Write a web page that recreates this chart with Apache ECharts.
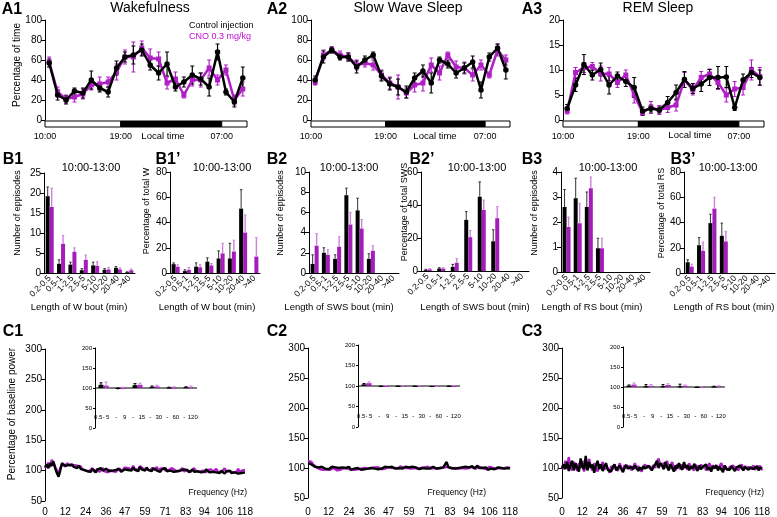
<!DOCTYPE html>
<html><head><meta charset="utf-8">
<script src="https://cdn.jsdelivr.net/npm/echarts@6/dist/echarts.min.js"></script>
<style>html,body{margin:0;padding:0;background:#fff}#c{width:777px;height:517px}</style>
</head><body><div id="c"></div>
<script>
// ---------------- DATA ----------------
// A: hourly bins from 10:00 (hours since 10:00, bin centres)
const hourBins = [0.5,1.5,2.5,3.5,4.5,5.5,6.5,7.5,8.5,9.5,10.5,11.5,12.5,13.5,14.5,15.5,16.5,17.5,18.5,19.5,20.5,21.5,22.5,23.5];
const timeTickHours = [0, 9, 21];
const timeTickLabels = ['10:00', '19:00', '07:00'];
const lightDark = [[0, 9, 0], [9, 21, 1], [21, 24, 0]]; // start, end, dark

const wakeCtl    = [57,25,20,29,27,40,32,28,52,63,65,70,55,47,56,33,38,45,41,33,68,28,18,42];
const wakeCtlErr = [4,5,4,3,5,9,4,5,7,5,9,6,5,7,12,4,5,9,6,9,8,3,5,11];
const wakeCno    = [58,28,21,23,26,35,36,38,48,63,63,72,62,61,37,41,25,40,40,52,40,50,20,31];
const wakeCnoErr = [5,5,4,5,5,5,7,5,8,7,15,7,9,7,6,7,3,6,7,8,5,5,5,7];

const swsCtl    = [40,63,70,63,63,53,60,65,44,36,33,28,42,49,37,60,56,47,52,58,30,63,72,50];
const swsCtlErr = [4,6,3,3,4,6,4,3,5,6,8,6,5,6,10,3,4,5,5,6,8,4,4,9];
const swsCno    = [38,65,70,65,63,55,57,55,45,37,33,27,35,37,55,47,65,53,52,45,55,45,70,60];
const swsCnoErr = [3,5,3,4,4,5,4,5,5,6,12,5,7,8,7,7,3,6,6,6,5,3,6,5];

const remCtl    = [2.3,7,11.1,9,10.1,7,8.8,7.7,6.5,1.8,2.3,2,3.5,5.5,8.1,6.3,7.2,8.5,8.5,8.6,2.5,8,9.5,8.5];
const remCtlErr = [0.8,1.3,2,1,1.3,1.8,0.8,1,2,0.8,0.7,0.6,1.2,1.5,1.6,1,1.5,1.6,2.2,2.1,0.6,1.2,1,1.5];
const remCno    = [1.8,9.5,10.5,10.7,9.3,9.2,7.5,9,5,1.5,2.5,2,2.5,3,8,6,8.5,9.2,7.5,5,6.2,6.5,10,8.7];
const remCnoErr = [0.6,1,1,0.8,1.5,1.3,1,1,1.6,0.6,1.2,0.9,1,1.2,1.5,1,1.2,1,1.4,1.4,1.5,1.5,2,1.8];

// B: bout length categories
const boutCats = ['0.2-0.5','0.5-1','1-2.5','2.5-5','5-10','10-20','20-40','>40'];
const wNumCtl = [19.2,2.3,2.1,0.7,1.9,0.8,1.3,0.2], wNumCtlErr = [2.3,1,0.6,0.4,0.8,0.3,0.3,0.1];
const wNumCno = [16.5,7.3,5.3,3.3,1.8,0.9,0.9,0.7], wNumCnoErr = [4.7,2.1,1,1.2,1,0.5,0.4,0.3];
const wPctCtl = [7,1.5,5,9,11.5,11.5,51,0],        wPctCtlErr = [1,1,3,3,6,12,15,0];
const wPctCno = [5,2.5,4.5,6,15.5,17,32,13],       wPctCnoErr = [1.5,2,2,1.5,8,9,14,15];
const sNumCtl = [0.9,2,1.4,7.7,6.2,1.4,0,0],       sNumCtlErr = [0.9,0.5,0.4,0.7,1.2,0.5,0,0];
const sNumCno = [2.7,1.8,2.6,4.8,4.4,2.2,0,0],     sNumCnoErr = [1.2,0.5,1,1.2,0.9,0.5,0,0];
const sPctCtl = [0.5,1.5,2.5,31,45,18,0,0],        sPctCtlErr = [0.5,0.5,1.5,5,9,7,0,0];
const sPctCno = [1,1.5,5,20.5,37,32,0,0],          sPctCnoErr = [0.5,0.5,2.5,4,6,7,0,0];
const rNumCtl = [2.6,2.95,2.6,0.95,0,0,0,0],       rNumCtlErr = [0.7,0.8,0.6,0.4,0,0,0,0];
const rNumCno = [1.8,1.95,3.35,0.95,0,0,0,0],      rNumCnoErr = [0.4,0.8,0.45,0.4,0,0,0,0];
const rPctCtl = [8.5,22,39.5,29.5,0,0,0,0],        rPctCtlErr = [2,6,7,10,0,0,0,0];
const rPctCno = [5,17.5,51,25,0,0,0,0],            rPctCnoErr = [2,7,9,8,0,0,0,0];

// C: power spectra, % of baseline, 1-Hz bins 0..118 Hz
const freqTicks = [0,12,24,36,47,59,71,83,94,106,118];
const c1Ctl = [106,110,104,112,108,115,104,96,90,100,
  112,110,108,111,109,107,110,106,109,104,
  108,103,106,101,104,99,102,98,103,100,
  97,102,99,104,100,98,103,101,99,102,
  100,97,101,99,103,98,100,102,99,101,
  103,100,105,101,104,99,106,102,104,100,
  105,101,103,99,104,102,100,103,98,102,
  101,104,99,102,100,103,98,101,99,102,
  100,98,102,99,101,97,100,102,98,100,
  99,101,97,100,98,102,99,97,100,98,
  101,97,99,96,100,98,95,99,97,100,
  96,99,97,100,95,98,96,99,97];
const c1Cno = [104,108,113,106,118,112,106,100,96,104,
  110,113,107,112,110,108,111,109,106,108,
  105,107,102,105,100,103,99,101,104,98,
  100,103,98,101,104,99,102,97,101,103,
  99,102,98,104,100,103,101,105,102,104,
  106,102,108,103,105,101,107,104,103,106,
  102,105,100,104,103,101,106,99,103,101,
  104,100,103,101,99,104,102,100,103,99,
  101,104,99,102,100,103,98,101,104,99,
  102,98,101,100,103,97,101,99,102,98,
  100,103,98,101,97,100,104,98,101,99,
  102,97,100,98,103,96,100,98,101];
const c2Ctl = [108,110,106,104,102,100,101,99,102,100,
  99,101,98,100,102,99,101,98,100,99,
  101,98,100,99,102,97,100,99,98,100,
  99,97,100,98,101,99,98,100,97,99,
  100,98,101,99,100,102,99,101,100,102,
  101,99,102,100,101,99,100,102,99,101,
  100,102,99,101,100,98,101,100,102,99,
  101,99,100,102,100,99,101,100,98,101,
  104,110,101,99,100,102,99,101,100,98,
  101,100,102,99,101,100,103,99,101,104,
  100,98,100,99,101,97,100,99,101,98,
  100,101,99,100,102,99,101,100,99];
const c2Cno = [112,115,110,106,103,101,99,98,100,97,
  100,98,101,97,99,100,98,96,99,97,
  98,100,97,99,96,98,100,97,99,98,
  97,99,98,100,97,99,98,100,99,101,
  99,101,100,98,101,99,100,102,101,100,
  102,100,101,99,103,101,100,102,100,101,
  99,101,100,102,99,101,100,99,101,100,
  102,100,99,101,100,102,99,101,100,102,
  101,100,102,100,99,101,100,102,99,101,
  100,102,99,101,100,99,102,100,99,101,
  102,99,100,101,98,100,102,99,100,101,
  99,101,100,102,99,100,101,99,100];
const c3Ctl = [100,106,98,110,95,104,112,96,108,100,
  94,116,102,98,120,96,110,100,106,92,
  104,112,98,106,95,103,108,97,100,94,
  102,106,96,100,104,98,93,101,105,99,
  96,102,98,104,100,95,101,97,103,99,
  98,104,100,96,102,106,112,100,108,104,
  98,110,102,96,106,100,94,104,99,108,
  102,97,110,100,105,96,103,99,107,101,
  95,104,98,102,100,106,97,101,94,103,
  99,105,96,102,100,93,104,98,101,97,
  103,99,95,101,98,104,100,96,102,99,
  97,101,104,98,100,103,96,101,99];
const c3Cno = [104,98,112,100,118,102,96,110,104,95,
  108,100,112,94,106,98,115,102,96,108,
  100,94,106,102,110,97,104,99,92,103,
  98,104,100,95,108,101,97,105,99,102,
  104,96,100,108,98,103,100,94,102,106,
  100,98,103,97,105,100,110,116,104,102,
  108,100,112,98,104,110,100,96,106,102,
  98,106,100,104,97,108,101,103,96,105,
  102,98,106,100,104,96,102,108,99,104,
  106,100,97,103,108,99,104,100,96,102,
  100,104,98,102,96,101,106,99,103,98,
  102,98,100,104,97,102,99,103,96];

// C insets: frequency bands
const bandLabels = ['0.5-','5','-','9','-','15','-','30','-','60','-','120'];
const bandCentres = [0.5,1.5,2.5,3.5,4.5,5.5];
const baselinePct = 100;
const c1BandCtl = [108,98,107,103,101,102], c1BandCtlErr = [5,2,4,2,1,1];
const c1BandCno = [106,99,108,104,101,102], c1BandCnoErr = [9,3,4,3,2,3];
const c2BandCtl = [104,99,99,99,98,99],     c2BandCtlErr = [2,1,1,1,1,1];
const c2BandCno = [107,100,99,99,98,100],   c2BandCnoErr = [3,1,1,1,1,1];
const c3BandCtl = [103,102,102,102,99,101], c3BandCtlErr = [2,4,4,5,1,1];
const c3BandCno = [106,103,105,103,99,102], c3BandCnoErr = [4,3,3,2,1,1];

// ---------------- STYLE / BUILD ----------------
const FONT = "'Liberation Sans', Arial, Helvetica, sans-serif";
const INK = '#000';
const MAG = '#a41cba';
const MAG_LINE = '#b01fc6';
const MAG_ERR = '#cc84da';
const MAG_TEXT = '#c20fd2';

const grid = [], xAxis = [], yAxis = [], series = [], graphic = [];

function addGrid(left, top, width, height) {
  grid.push({left, top, width, height, containLabel: false});
  return grid.length - 1;
}
function valueY(g, min, max, interval, fontSize, tickLen) {
  yAxis.push({
    gridIndex: g, type: 'value', min, max, interval,
    axisLine: {show: true, lineStyle: {color: INK, width: 1}},
    axisTick: {show: true, length: tickLen || 4, lineStyle: {color: INK, width: 1}},
    axisLabel: {color: INK, fontFamily: FONT, fontSize, margin: 3},
    splitLine: {show: false}
  });
  return yAxis.length - 1;
}
function errSeries(xi, yi, data, color, dx, mode, cap, lw) {
  return {
    type: 'custom', xAxisIndex: xi, yAxisIndex: yi, data, silent: true, z: 3,
    renderItem: (p, api) => {
      const x = api.value(0), v = api.value(1), e = api.value(2);
      if (!e) return null;
      const top = api.coord([x, v + e]);
      const bot = api.coord([x, mode === 'both' ? v - e : v]);
      const cx = top[0] + dx;
      const ch = [
        {type: 'line', shape: {x1: cx, y1: bot[1], x2: cx, y2: top[1]}, style: {stroke: color, lineWidth: lw || 1}},
        {type: 'line', shape: {x1: cx - cap / 2, y1: top[1], x2: cx + cap / 2, y2: top[1]}, style: {stroke: color, lineWidth: 1}}
      ];
      if (mode === 'both') ch.push({type: 'line', shape: {x1: cx - cap / 2, y1: bot[1], x2: cx + cap / 2, y2: bot[1]}, style: {stroke: color, lineWidth: 1}});
      return {type: 'group', children: ch};
    }
  };
}
function txt(x, y, text, size, o) {
  o = o || {};
  const al = o.align || 'center';
  graphic.push({type: 'text', x, y, rotation: o.rot || 0, z: 100, silent: true,
    style: {text, fill: o.color || INK, font: (o.bold ? 'bold ' : '') + size + 'px ' + FONT,
      align: al, textAlign: al, verticalAlign: 'middle', textVerticalAlign: 'middle'}});
}

function panelA(left, width, ymax, yint, ctl, ctlErr, cno, cnoErr) {
  const g = addGrid(left, 20, width, 100);
  xAxis.push({gridIndex: g, type: 'value', min: 0, max: 24, show: false});
  const xi = xAxis.length - 1;
  const yi = valueY(g, 0, ymax, yint, 10);
  const mk = (vals, errs) => hourBins.map((h, i) => [h, vals[i], errs[i]]);
  series.push(errSeries(xi, yi, mk(cno, cnoErr), MAG_LINE, 0, 'both', 4, 1.2));
  series.push({type: 'line', name: 'CNO 0.3 mg/kg', xAxisIndex: xi, yAxisIndex: yi,
    data: hourBins.map((h, i) => [h, cno[i]]), symbol: 'rect', symbolSize: 5, showSymbol: true,
    lineStyle: {color: MAG_LINE, width: 2.5}, itemStyle: {color: MAG_LINE}, z: 3});
  series.push(errSeries(xi, yi, mk(ctl, ctlErr), INK, 0, 'both', 4, 1.2));
  series.push({type: 'line', name: 'Control injection', xAxisIndex: xi, yAxisIndex: yi,
    data: hourBins.map((h, i) => [h, ctl[i]]), symbol: 'circle', symbolSize: 5.5, showSymbol: true,
    lineStyle: {color: INK, width: 2.5}, itemStyle: {color: INK}, z: 4});
  // light / dark bar with time labels
  const g2 = addGrid(left, 121, width, 6);
  xAxis.push({gridIndex: g2, type: 'value', min: 0, max: 24, interval: 3,
    axisLine: {show: false}, axisTick: {show: false}, splitLine: {show: false},
    axisLabel: {show: true, color: INK, fontFamily: FONT, fontSize: 9, margin: 5,
      showMinLabel: true, showMaxLabel: true,
      formatter: v => { const k = timeTickHours.indexOf(v); return k < 0 ? '' : timeTickLabels[k]; }}});
  const bx = xAxis.length - 1;
  yAxis.push({gridIndex: g2, type: 'value', min: 0, max: 1, show: false});
  const by = yAxis.length - 1;
  series.push({type: 'custom', xAxisIndex: bx, yAxisIndex: by, data: lightDark, silent: true,
    renderItem: (p, api) => {
      const s = api.coord([api.value(0), 1]);
      const e = api.coord([api.value(1), 0]);
      return {type: 'rect', shape: {x: s[0], y: s[1], width: e[0] - s[0], height: e[1] - s[1]},
        style: {fill: api.value(2) ? INK : '#fff', stroke: INK, lineWidth: 1}};
    }});
}

function panelB(left, top, width, height, ymax, yint, ctl, ctlErr, cno, cnoErr, xName, nameX, nameY) {
  const g = addGrid(left, top, width, height);
  xAxis.push({gridIndex: g, type: 'category', data: boutCats, boundaryGap: true,
    axisLine: {show: true, lineStyle: {color: INK, width: 1}}, axisTick: {show: false},
    axisLabel: {interval: 0, rotate: 45, color: INK, fontFamily: FONT, fontSize: 8.5, margin: 4}});
  const xi = xAxis.length - 1;
  const yi = valueY(g, 0, ymax, yint, 10);
  series.push({type: 'bar', name: 'Control injection', xAxisIndex: xi, yAxisIndex: yi, data: ctl,
    barWidth: 4, barGap: '0%', itemStyle: {color: INK}});
  series.push({type: 'bar', name: 'CNO 0.3 mg/kg', xAxisIndex: xi, yAxisIndex: yi, data: cno,
    barWidth: 4, barGap: '0%', itemStyle: {color: MAG}});
  series.push(errSeries(xi, yi, ctl.map((v, i) => [i, v, ctlErr[i]]), '#333', -2, 'up', 2.5, 1));
  series.push(errSeries(xi, yi, cno.map((v, i) => [i, v, cnoErr[i]]), MAG_ERR, 2, 'up', 2.5, 1.4));
  txt(nameX, nameY, xName, 9.5);
}

function panelC(left, top, width, height, labelMargin, ctl, cno, ins, bCtl, bCtlErr, bCno, bCnoErr) {
  const g = addGrid(left, top, width, height);
  xAxis.push({gridIndex: g, type: 'category', data: ctl.map((_, i) => String(i)), boundaryGap: false,
    axisLine: {show: false}, axisTick: {show: false}, splitLine: {show: false},
    axisLabel: {interval: (i) => freqTicks.indexOf(i) >= 0, color: INK, fontFamily: FONT, fontSize: 10, margin: labelMargin}});
  const xi = xAxis.length - 1;
  const yi = valueY(g, 50, 300, 50, 10);
  series.push({type: 'line', name: 'CNO 0.3 mg/kg', xAxisIndex: xi, yAxisIndex: yi, data: cno, showSymbol: false,
    lineStyle: {color: MAG_LINE, width: 2.4}, itemStyle: {color: MAG_LINE}, z: 2});
  series.push({type: 'line', name: 'Control injection', xAxisIndex: xi, yAxisIndex: yi, data: ctl, showSymbol: false,
    lineStyle: {color: INK, width: 2.4}, itemStyle: {color: INK}, z: 3});
  // inset
  const gi = addGrid(ins.left, ins.top, 102, ins.height);
  xAxis.push({gridIndex: gi, type: 'value', min: 0, max: 6, show: false, position: 'top'});
  const ixi = xAxis.length - 1;
  xAxis.push({gridIndex: gi, type: 'category', data: bandLabels, position: 'bottom', offset: -14,
    axisLine: {show: false}, axisTick: {show: false},
    axisLabel: {interval: 0, color: INK, fontFamily: FONT, fontSize: 6, margin: 0}});
  const iyi = valueY(gi, 0, 200, 50, 6, 2);
  series.push({type: 'line', xAxisIndex: ixi, yAxisIndex: iyi, data: [[0, baselinePct], [6, baselinePct]],
    showSymbol: false, silent: true, lineStyle: {color: INK, width: 1}, z: 2});
  const barSeries = (vals, errs, color, errColor, dx) => ({
    type: 'custom', xAxisIndex: ixi, yAxisIndex: iyi, silent: true, z: 3,
    data: bandCentres.map((c, i) => [c, vals[i], errs[i]]),
    renderItem: (p, api) => {
      const x = api.value(0), v = api.value(1), e = api.value(2);
      const a = api.coord([x, baselinePct]), b = api.coord([x, v]);
      const t = api.coord([x, v + e]), d = api.coord([x, v - e]);
      const cx = a[0] + dx;
      return {type: 'group', children: [
        {type: 'rect', shape: {x: cx - 2.5, y: Math.min(a[1], b[1]), width: 5, height: Math.max(1, Math.abs(a[1] - b[1]))}, style: {fill: color}},
        {type: 'line', shape: {x1: cx, y1: d[1], x2: cx, y2: t[1]}, style: {stroke: errColor, lineWidth: 1}},
        {type: 'line', shape: {x1: cx - 1.5, y1: t[1], x2: cx + 1.5, y2: t[1]}, style: {stroke: errColor, lineWidth: 1}}
      ]};
    }
  });
  series.push(barSeries(bCtl, bCtlErr, INK, INK, -2.5));
  series.push(barSeries(bCno, bCnoErr, MAG, MAG_ERR, 2.5));
}

// A panels
panelA(45, 202, 100, 20, wakeCtl, wakeCtlErr, wakeCno, wakeCnoErr);
panelA(311, 199, 100, 20, swsCtl, swsCtlErr, swsCno, swsCnoErr);
panelA(563, 201, 20, 5, remCtl, remCtlErr, remCno, remCnoErr);
// B panels
panelB(44, 173, 91, 100, 25, 5, wNumCtl, wNumCtlErr, wNumCno, wNumCnoErr, 'Length of W bout (min)', 79, 307);
panelB(170, 172, 90, 101, 80, 20, wPctCtl, wPctCtlErr, wPctCno, wPctCnoErr, 'Length of W bout (min)', 207, 307);
panelB(309, 172, 90, 101, 10, 2, sNumCtl, sNumCtlErr, sNumCno, sNumCnoErr, 'Length of SWS bout (min)', 339, 307);
panelB(421, 172, 108, 99, 60, 20, sPctCtl, sPctCtlErr, sPctCno, sPctCnoErr, 'Length of SWS bout (min)', 475, 307);
panelB(561, 172, 89, 100, 4, 1, rNumCtl, rNumCtlErr, rNumCno, rNumCnoErr, 'Length of RS bout (min)', 592, 307);
panelB(684, 172, 91, 101, 80, 20, rPctCtl, rPctCtlErr, rPctCno, rPctCnoErr, 'Length of RS bout (min)', 724, 307);
// C panels
panelC(45, 349, 200, 152, 6, c1Ctl, c1Cno, {left: 95, top: 348, height: 80}, c1BandCtl, c1BandCtlErr, c1BandCno, c1BandCnoErr);
panelC(308, 348, 202, 150, 9, c2Ctl, c2Cno, {left: 358, top: 345, height: 82}, c2BandCtl, c2BandCtlErr, c2BandCno, c2BandCnoErr);
panelC(562, 348, 200, 150, 9, c3Ctl, c3Cno, {left: 623, top: 347, height: 80}, c3BandCtl, c3BandCtlErr, c3BandCno, c3BandCnoErr);

// Text annotations
[['A1', 12, 10], ['A2', 277, 10], ['A3', 532, 10],
 ['B1', 13, 160], ["B1\u2019", 168, 160], ['B2', 277, 160], ["B2\u2019", 422, 160], ['B3', 532, 160], ["B3\u2019", 683, 160],
 ['C1', 13, 332], ['C2', 277, 332], ['C3', 532, 332]].forEach(([t, x, y]) => txt(x, y, t, 16, {bold: true}));
txt(150, 8, 'Wakefulness', 14);
txt(408, 8, 'Slow Wave Sleep', 14);
txt(658, 8, 'REM Sleep', 14);
txt(189, 26, 'Control injection', 9, {align: 'left'});
txt(189, 37, 'CNO 0.3 mg/kg', 9, {align: 'left', color: MAG_TEXT});
txt(163, 136, 'Local time', 9.5);
txt(435, 136, 'Local time', 9.5);
txt(690, 135, 'Local time', 9.5);
txt(17, 65, 'Percentage of time', 10, {rot: Math.PI / 2});
[[91, 168], [222, 168], [349, 168], [477, 168], [608, 168], [728, 168]].forEach(([x, y]) => txt(x, y, '10:00-13:00', 11));
txt(18, 213, 'Number of eppisodes', 9, {rot: Math.PI / 2});
txt(147, 211, 'Percentage of total W', 9, {rot: Math.PI / 2});
txt(281, 213, 'Number of eppisodes', 9, {rot: Math.PI / 2});
txt(405, 212, 'Percentage of total SWS', 9, {rot: Math.PI / 2});
txt(535, 213, 'Number of eppisodes', 9, {rot: Math.PI / 2});
txt(662, 213, 'Percentage of total RS', 9, {rot: Math.PI / 2});
txt(12, 414, 'Percentage of baseline power', 10, {rot: Math.PI / 2});
txt(247, 493, 'Frequency (Hz)', 8.5, {align: 'right'});
txt(486, 493, 'Frequency (Hz)', 8.5, {align: 'right'});
txt(764, 493, 'Frequency (Hz)', 8.5, {align: 'right'});

const chart = echarts.init(document.getElementById('c'), null, {renderer: 'canvas'});
chart.setOption({animation: false, backgroundColor: '#fff', textStyle: {fontFamily: FONT},
  grid, xAxis, yAxis, series, graphic});
</script></body></html>
